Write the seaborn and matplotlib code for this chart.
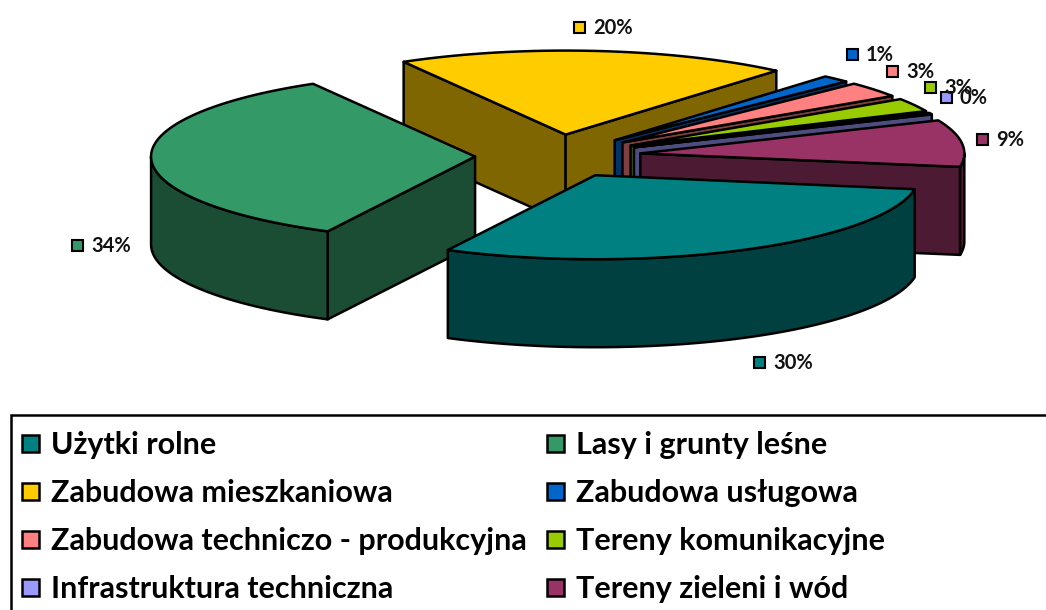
import numpy as np
import matplotlib.pyplot as plt
import seaborn as sns
from matplotlib.patches import Polygon, Rectangle

# Slice order as in the legend, shares in percent
categories = ['Użytki rolne', 'Lasy i grunty leśne', 'Zabudowa mieszkaniowa', 'Zabudowa usługowa',
              'Zabudowa techniczo - produkcyjna', 'Tereny komunikacyjne',
              'Infrastruktura techniczna', 'Tereny zieleni i wód']
shares = [29.85, 34.15, 19.6, 1.4, 3.0, 2.6, 0.3, 9.0]
colors = ['#008080', '#339966', '#FFCC00', '#0066CC', '#FF8080', '#99CC00', '#9999FF', '#993366']

sns.set_theme(style='white')
plt.rcParams['font.family'] = ['Lato', 'DejaVu Sans']
palette = sns.color_palette(colors)

# Pie geometry in pixels
first_angle = 99.6
cx, cy = 558, 156
rx, ry = 324, 84
depth = 88
explode = 0.256
line = dict(edgecolor='black', linewidth=1.8, joinstyle='round')

fig, ax = plt.subplots(figsize=(10.46, 6.10), dpi=100)
ax.set_position([0, 0, 1, 1])
ax.set_xlim(0, 1046)
ax.set_ylim(610, 0)
ax.axis('off')


def rim_points(x0, y0, a0, a1):
    t = np.radians(np.linspace(a0, a1, max(int((a1 - a0) * 2), 2)))
    return np.column_stack([x0 + rx * np.sin(t), y0 - ry * np.cos(t)])


def draw_slice(i, a0, a1):
    mid = np.radians((a0 + a1) / 2)
    x0 = cx + explode * rx * np.sin(mid)
    y0 = cy - explode * ry * np.cos(mid)
    base = palette[i]
    dark = tuple(c * 0.5 for c in base)
    rim = rim_points(x0, y0, a0, a1)
    apex = np.array([[x0, y0]])
    drop = np.array([0, depth])

    # radial walls facing the viewer
    if np.sin(np.radians(a0)) < 0:
        wall = np.vstack([apex, rim[:1], rim[:1] + drop, apex + drop])
        ax.add_patch(Polygon(wall, facecolor=dark, **line))
    if np.sin(np.radians(a1)) > 0:
        wall = np.vstack([apex, rim[-1:], rim[-1:] + drop, apex + drop])
        ax.add_patch(Polygon(wall, facecolor=dark, **line))

    # front part of the outer wall
    lo, hi = a0, a1
    for k in (0, 360):
        lo2, hi2 = max(lo, 90 + k), min(hi, 270 + k)
        if hi2 > lo2:
            front = rim_points(x0, y0, lo2, hi2)
            wall = np.vstack([front, (front + drop)[::-1]])
            ax.add_patch(Polygon(wall, facecolor=dark, **line))

    ax.add_patch(Polygon(np.vstack([apex, rim]), facecolor=base, **line))


edges = first_angle + np.cumsum([0] + shares) * 3.6
# painter's order: back slices first, the two big front ones last
for i in [2, 3, 4, 5, 6, 7, 1, 0]:
    draw_slice(i, edges[i], edges[i + 1])

# data labels with their colour keys
label_pos = [(759, 362), (77, 245), (579, 27), (852, 54), (892, 71), (930, 87), (946, 97), (982, 139)]
for i, (x, y) in enumerate(label_pos):
    ax.add_patch(Rectangle((x - 5.5, y - 5.5), 11, 11, facecolor=palette[i], edgecolor='black', linewidth=1.5))
    ax.text(x + 14, y + 1, f'{shares[i]:.0f}%', fontsize=14.5, fontweight='bold', color='#111111', va='center')

# legend box runs off the bottom and right of the picture
ax.add_patch(Rectangle((11, 415), 1100, 300, facecolor='white', edgecolor='black', linewidth=1.8, zorder=3))
legend_rows = [444, 492, 540, 588]
legend_cols = [22, 547]
for i, name in enumerate(categories):
    x = legend_cols[i % 2]
    y = legend_rows[i // 2]
    ax.add_patch(Rectangle((x, y - 9), 17, 17, facecolor=palette[i], edgecolor='black', linewidth=1.8, zorder=4))
    ax.text(x + 29, y + 1, name, fontsize=22, fontweight='bold', color='black', va='center', zorder=4)

fig.savefig('out.png', dpi=100)
plt.close(fig)
